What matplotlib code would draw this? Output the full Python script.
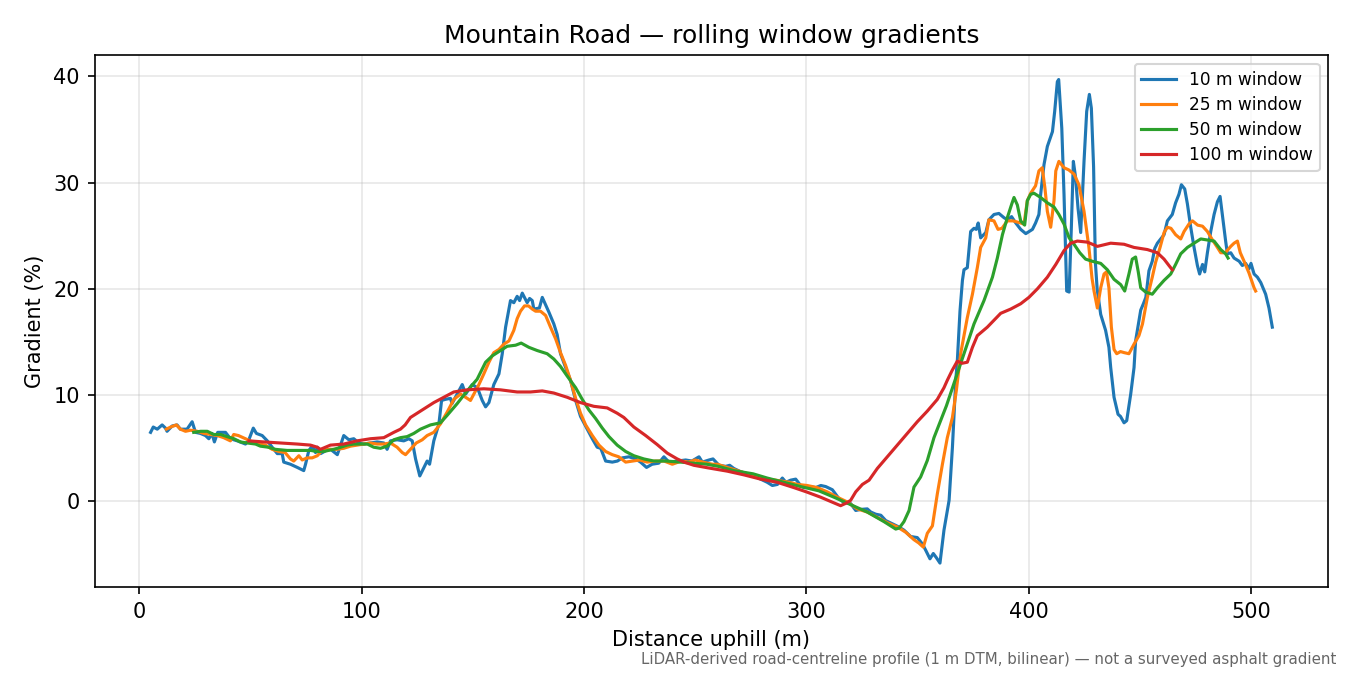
import matplotlib
matplotlib.use("Agg")
import matplotlib.pyplot as plt

# values (distance in m, gradient in %)
x10 = [5.0, 6.2, 8.0, 10.2, 11.7, 12.4, 14.7, 16.9, 18.4, 21.4, 23.7, 25.2, 27.4, 29.7, 31.2, 32.6, 33.7, 35.2, 38.7, 40.9,
       44.0, 47.7, 49.2, 51.2, 52.6, 55.2, 57.5, 59.7, 62.0, 64.2, 64.9, 67.9, 71.0, 73.9, 74.7, 76.2, 77.7, 79.2, 80.0, 81.5,
       84.0, 86.0, 89.0, 91.9, 94.2, 96.4, 98.7, 100.9, 103.9, 106.9, 109.9, 111.4, 112.9, 115.9, 118.9, 121.2, 122.7, 124.2, 126.1, 127.5,
       129.4, 130.5, 132.4, 134.7, 135.9, 137.5, 139.9, 140.6, 142.9, 145.2, 146.7, 149.7, 152.0, 154.2, 155.7, 157.2, 159.4, 161.7, 163.2, 164.7,
       166.9, 168.4, 169.9, 171.0, 172.2, 174.4, 175.5, 176.7, 177.4, 179.9, 181.2, 182.7, 184.2, 186.4, 187.9, 189.4, 191.7, 193.9, 196.2, 198.4,
       201.4, 203.7, 205.9, 207.5, 209.7, 212.7, 215.0, 217.2, 220.2, 223.2, 225.4, 228.1, 230.6, 233.6, 235.9, 238.2, 242.0, 245.7, 248.5, 251.7,
       253.2, 256.2, 258.0, 260.7, 263.7, 265.5, 267.4, 270.4, 273.4, 276.4, 279.4, 282.4, 284.7, 287.0, 289.2, 290.8, 292.9, 295.2, 297.4, 298.9,
       301.5, 304.2, 306.5, 308.7, 311.7, 314.7, 316.9, 319.9, 322.2, 324.5, 327.4, 329.0, 331.2, 333.5, 335.7, 338.7, 341.6, 343.9, 346.9, 349.9,
       352.2, 353.7, 355.6, 357.1, 358.5, 360.1, 361.9, 364.2, 365.7, 367.2, 367.9, 369.1, 370.2, 370.9, 372.4, 373.9, 375.4, 376.4, 377.3, 378.4,
       380.7, 382.1, 384.4, 386.6, 388.9, 390.5, 392.3, 394.2, 396.4, 398.7, 401.7, 403.1, 404.6, 405.4, 406.9, 408.4, 410.7, 411.7, 412.9, 413.5,
       414.9, 415.9, 417.1, 418.2, 419.2, 420.1, 421.1, 422.2, 423.4, 424.9, 426.1, 427.3, 428.2, 429.2, 430.0, 430.8, 432.4, 434.6, 436.1, 436.9,
       438.4, 440.2, 441.3, 442.9, 444.1, 445.9, 447.4, 448.1, 449.6, 450.4, 451.6, 452.7, 454.1, 455.6, 456.7, 457.9, 459.4, 460.9, 462.4, 464.6,
       466.1, 467.6, 468.7, 470.2, 471.4, 472.9, 474.4, 475.9, 476.9, 478.2, 479.2, 480.4, 481.9, 483.4, 484.9, 486.1, 487.1, 488.6, 489.4, 490.9,
       492.4, 494.7, 496.1, 497.6, 499.1, 500.0, 501.4, 502.9, 504.4, 506.6, 508.1, 509.6]
g10 = [6.5, 7.0, 6.8, 7.2, 6.9, 6.6, 7.1, 7.2, 6.8, 6.8, 7.5, 6.5, 6.4, 6.2, 5.9, 6.4, 5.6, 6.5, 6.5, 5.9,
       5.7, 5.4, 5.8, 6.9, 6.4, 6.2, 5.7, 5.1, 4.5, 4.5, 3.7, 3.5, 3.2, 2.9, 3.5, 4.8, 5.2, 4.6, 5.1, 4.5,
       4.8, 4.9, 4.4, 6.2, 5.8, 5.9, 5.5, 5.4, 5.5, 5.6, 5.5, 4.9, 5.7, 5.8, 5.7, 5.9, 5.7, 4.0, 2.4, 3.0,
       3.8, 3.5, 5.7, 7.3, 9.5, 9.6, 9.7, 9.2, 10.1, 11.0, 10.1, 11.0, 10.7, 9.5, 8.9, 9.3, 11.0, 12.0, 13.9, 16.4,
       18.9, 18.7, 19.3, 18.9, 19.6, 18.7, 19.1, 18.9, 18.1, 18.2, 19.2, 18.5, 17.8, 16.7, 15.7, 13.9, 12.6, 11.4, 9.5, 8.0,
       6.8, 5.9, 5.1, 5.0, 3.8, 3.7, 3.8, 4.1, 4.2, 4.0, 3.7, 3.2, 3.5, 3.6, 4.2, 3.7, 3.8, 3.9, 3.8, 4.2,
       3.7, 3.9, 4.0, 3.4, 3.3, 3.4, 3.1, 2.8, 2.6, 2.4, 2.1, 1.8, 1.5, 1.6, 2.2, 1.8, 2.0, 2.1, 1.5, 1.3,
       1.4, 1.3, 1.5, 1.4, 1.1, 0.25, -0.1, -0.2, -0.85, -0.75, -0.7, -1.0, -1.2, -1.3, -1.8, -2.1, -2.4, -2.7, -3.3, -3.4,
       -4.0, -4.6, -5.4, -4.9, -5.3, -5.8, -2.7, 0.1, 5.1, 11.4, 13.2, 17.9, 20.8, 21.8, 22.0, 25.4, 25.7, 25.6, 26.2, 24.8,
       25.3, 26.5, 27.0, 27.1, 26.7, 26.5, 26.8, 26.2, 25.6, 25.2, 25.6, 26.2, 27.0, 28.9, 31.7, 33.4, 34.8, 36.7, 39.5, 39.7,
       35.1, 28.9, 19.8, 19.7, 25.8, 32.0, 30.5, 27.6, 25.3, 32.0, 36.7, 38.3, 37.0, 31.5, 22.5, 20.0, 17.6, 16.1, 14.5, 12.6,
       9.8, 8.2, 8.0, 7.4, 7.6, 10.1, 12.6, 15.1, 17.0, 18.0, 18.6, 19.2, 21.7, 22.6, 23.8, 24.3, 24.7, 25.1, 26.4, 27.0,
       28.1, 28.9, 29.8, 29.4, 28.0, 25.8, 23.9, 22.2, 21.4, 22.3, 21.6, 23.4, 25.4, 27.0, 28.2, 28.7, 27.0, 24.5, 23.3, 23.4,
       22.9, 22.6, 22.2, 22.4, 21.9, 22.4, 21.4, 21.1, 20.6, 19.5, 18.2, 16.4]

x25 = [12.1, 14.0, 16.6, 18.4, 20.7, 23.0, 26.0, 29.0, 32.0, 35.0, 37.9, 40.9, 42.4, 44.5, 47.7, 50.7, 53.7, 56.7, 59.7, 62.7,
       65.5, 67.9, 69.4, 71.7, 73.2, 75.5, 77.7, 80.0, 82.2, 85.2, 88.5, 91.9, 94.9, 97.9, 100.9, 103.9, 106.9, 109.9, 112.9, 115.9,
       118.2, 119.7, 121.9, 124.5, 127.2, 129.4, 132.4, 135.4, 138.4, 141.4, 144.4, 146.7, 148.9, 150.4, 152.7, 154.9, 157.2, 159.4, 161.7, 163.9,
       166.2, 168.4, 169.9, 171.4, 173.2, 175.0, 176.7, 178.2, 180.4, 182.7, 184.9, 187.2, 189.4, 191.7, 193.9, 196.2, 198.4, 200.7, 203.7, 206.7,
       209.7, 212.7, 215.6, 218.7, 222.0, 225.0, 228.4, 232.0, 236.0, 239.7, 243.7, 247.0, 250.0, 253.5, 257.7, 260.0, 264.4, 269.0, 272.0, 276.4,
       282.4, 286.3, 292.3, 296.0, 300.4, 304.9, 309.4, 313.9, 318.4, 322.9, 327.4, 331.9, 336.4, 340.9, 344.7, 348.4, 350.5, 352.6, 354.4, 356.7,
       358.9, 361.2, 363.4, 365.7, 367.5, 369.4, 372.4, 374.7, 376.9, 378.4, 380.7, 382.1, 384.4, 386.2, 388.0, 390.4, 393.0, 396.4, 397.9, 399.4,
       400.9, 403.1, 404.6, 406.1, 407.3, 408.4, 409.9, 411.4, 412.2, 413.6, 415.9, 418.0, 420.4, 422.6, 424.9, 427.1, 428.5, 429.4, 430.9, 432.4,
       433.9, 435.0, 436.1, 437.2, 438.4, 439.6, 441.3, 443.0, 445.1, 447.4, 449.6, 451.2, 453.4, 455.6, 457.1, 459.1, 460.9, 462.4, 464.0, 466.1,
       468.4, 469.9, 472.1, 473.7, 476.0, 478.2, 480.4, 482.7, 484.9, 486.4, 488.5, 490.9, 492.4, 493.9, 495.2, 496.9, 499.1, 501.4, 502.1]
g25 = [6.8, 7.0, 7.2, 6.8, 6.6, 6.7, 6.6, 6.4, 6.3, 6.2, 6.0, 5.7, 6.3, 6.2, 5.9, 5.6, 5.4, 5.3, 4.9, 4.7,
       4.6, 4.0, 3.8, 4.3, 3.9, 4.1, 4.1, 4.3, 4.8, 4.9, 4.9, 5.0, 5.2, 5.3, 5.4, 5.5, 5.4, 5.4, 5.5, 5.1,
       4.6, 4.4, 4.9, 5.5, 5.8, 6.2, 6.5, 7.3, 8.4, 9.6, 10.1, 9.8, 9.5, 10.1, 11.0, 12.0, 13.1, 14.0, 14.3, 14.8,
       15.1, 16.1, 17.2, 17.9, 18.4, 18.4, 18.1, 17.9, 17.9, 17.5, 16.4, 15.3, 14.0, 12.8, 11.4, 9.7, 8.3, 7.2, 6.2, 5.3,
       4.7, 4.4, 4.2, 3.7, 3.8, 3.9, 3.7, 3.8, 3.8, 3.5, 3.8, 3.7, 3.9, 3.7, 3.5, 3.5, 3.2, 2.9, 2.7, 2.4,
       2.1, 2.0, 1.8, 1.6, 1.5, 1.3, 0.9, 0.4, -0.05, -0.7, -1.0, -1.5, -2.0, -2.4, -2.9, -3.6, -3.9, -4.3, -3.0, -2.3,
       0.7, 3.5, 6.0, 7.9, 10.5, 13.9, 17.3, 19.5, 22.0, 23.9, 24.8, 26.5, 26.4, 25.6, 25.7, 26.4, 26.4, 26.2, 26.1, 28.3,
       29.0, 29.7, 31.1, 31.4, 29.5, 27.3, 25.8, 28.3, 31.1, 32.0, 31.4, 31.2, 30.8, 29.8, 27.3, 23.9, 21.0, 19.8, 18.2, 20.1,
       21.4, 21.6, 20.1, 16.4, 14.3, 13.9, 14.1, 14.0, 13.9, 14.8, 15.6, 16.7, 19.2, 21.1, 22.5, 23.9, 25.3, 25.8, 25.7, 25.1,
       24.7, 25.4, 26.1, 26.4, 26.0, 25.9, 25.4, 24.6, 23.9, 23.4, 23.4, 24.0, 24.3, 24.5, 23.4, 22.6, 21.5, 20.1, 19.8]

x50 = [24.4, 27.5, 30.5, 33.4, 36.5, 39.4, 42.5, 45.4, 48.5, 52.2, 54.4, 58.0, 61.2, 64.0, 66.4, 70.0, 73.9, 77.0, 79.9, 82.9,
       85.0, 87.4, 90.5, 93.4, 96.4, 99.4, 102.5, 105.4, 108.4, 111.4, 114.4, 117.4, 120.4, 123.4, 126.4, 130.9, 135.4, 138.4, 142.9, 147.4,
       151.9, 155.7, 158.7, 162.4, 165.4, 169.2, 171.7, 175.2, 178.9, 183.4, 186.4, 189.4, 192.4, 196.2, 199.2, 202.2, 205.2, 208.2, 211.2, 214.9,
       218.7, 222.4, 226.9, 231.4, 237.0, 243.4, 249.0, 255.2, 260.4, 267.4, 276.0, 282.4, 289.9, 297.4, 305.6, 312.4, 319.9, 327.4, 334.9, 340.2,
       341.8, 343.9, 346.2, 348.4, 351.4, 354.4, 357.4, 360.4, 363.0, 366.4, 370.9, 375.4, 379.9, 383.7, 385.9, 388.2, 390.4, 392.4, 393.4, 394.9,
       396.4, 398.2, 399.4, 400.9, 402.4, 405.4, 408.4, 411.4, 413.6, 415.9, 418.2, 420.4, 423.0, 425.6, 428.6, 432.4, 435.4, 438.4, 441.4, 443.2,
       445.1, 446.6, 448.1, 449.3, 450.4, 452.6, 455.6, 457.9, 460.9, 463.9, 466.1, 468.4, 471.4, 474.4, 477.4, 480.4, 483.4, 486.4, 488.6, 489.7]
g50 = [6.5, 6.6, 6.6, 6.3, 6.3, 6.1, 5.9, 5.6, 5.5, 5.4, 5.2, 5.1, 4.9, 4.85, 4.8, 4.8, 4.8, 4.8, 4.7, 4.7,
       4.8, 4.9, 5.1, 5.3, 5.4, 5.4, 5.4, 5.1, 5.0, 5.2, 5.8, 6.0, 6.1, 6.4, 6.8, 7.2, 7.4, 8.1, 9.2, 10.4,
       11.5, 13.1, 13.7, 14.2, 14.6, 14.7, 14.9, 14.5, 14.2, 13.9, 13.4, 12.7, 11.8, 10.7, 9.6, 8.6, 7.8, 6.9, 6.1, 5.3,
       4.7, 4.3, 4.0, 3.8, 3.8, 3.7, 3.6, 3.5, 3.3, 2.9, 2.6, 2.2, 1.8, 1.4, 1.0, 0.4, -0.3, -1.0, -1.9, -2.6,
       -2.5, -1.9, -0.85, 1.35, 2.3, 3.85, 6.0, 7.6, 9.0, 11.1, 13.9, 16.7, 18.9, 21.1, 22.9, 25.1, 26.7, 28.0, 28.6, 27.9,
       26.4, 26.0, 28.3, 28.9, 29.0, 28.6, 28.1, 27.7, 27.0, 26.1, 24.8, 24.2, 23.4, 22.8, 22.6, 22.4, 21.8, 20.9, 20.4, 19.8,
       21.4, 22.8, 23.0, 21.6, 20.1, 19.7, 19.5, 20.1, 20.8, 21.4, 22.3, 23.3, 23.9, 24.3, 24.7, 24.6, 24.5, 23.7, 23.3, 22.9]

x100 = [49.2, 55.9, 63.4, 71.0, 76.9, 80.0, 81.4, 85.9, 91.9, 97.9, 103.9, 109.9, 114.4, 117.4, 119.5, 121.9, 126.4, 132.4, 136.9, 141.4,
        147.4, 154.9, 162.4, 169.9, 175.9, 181.2, 186.4, 192.4, 198.4, 204.4, 210.4, 214.9, 217.9, 222.4, 227.7, 232.9, 237.4, 241.9, 245.0, 249.4,
        256.0, 264.4, 271.9, 279.4, 286.9, 294.4, 300.0, 306.4, 312.0, 315.4, 317.5, 319.9, 322.2, 325.2, 328.2, 331.9, 336.4, 340.9, 345.4, 349.9,
        354.4, 358.9, 361.9, 363.4, 365.5, 367.9, 370.0, 372.4, 374.7, 376.9, 381.4, 387.4, 391.9, 396.4, 400.1, 403.9, 408.4, 412.2, 415.9, 418.9,
        421.9, 426.4, 430.9, 436.9, 442.9, 447.4, 453.4, 457.9, 460.9, 463.1, 464.6]
g100 = [5.7, 5.6, 5.5, 5.4, 5.3, 5.1, 4.9, 5.3, 5.4, 5.7, 5.9, 6.0, 6.5, 6.8, 7.2, 7.9, 8.5, 9.3, 9.8, 10.3,
        10.5, 10.6, 10.5, 10.3, 10.3, 10.4, 10.2, 9.8, 9.3, 8.95, 8.8, 8.3, 7.9, 7.0, 6.2, 5.35, 4.55, 4.0, 3.7, 3.4,
        3.15, 2.85, 2.5, 2.1, 1.8, 1.3, 0.9, 0.4, -0.1, -0.4, -0.2, 0.1, 0.9, 1.6, 2.0, 3.1, 4.2, 5.3, 6.4, 7.5,
        8.5, 9.6, 10.7, 11.4, 12.3, 13.2, 13.0, 13.1, 14.5, 15.6, 16.4, 17.7, 18.1, 18.6, 19.2, 20.0, 21.1, 22.3, 23.6, 24.3,
        24.5, 24.4, 24.0, 24.3, 24.2, 23.9, 23.7, 23.4, 22.8, 22.2, 21.8]

series = [(x10, g10, "10 m window", "#1f77b4"),
          (x25, g25, "25 m window", "#ff7f0e"),
          (x50, g50, "50 m window", "#2ca02c"),
          (x100, g100, "100 m window", "#d62728")]

fig = plt.figure(figsize=(9, 4.5), dpi=150)
ax = fig.add_subplot(1, 1, 1)
fig.subplots_adjust(left=0.07, right=0.984, top=0.918, bottom=0.13)

for xs, ys, lab, col in series:
    ax.plot(xs, ys, color=col, linewidth=1.5, label=lab)

ax.set_title("Mountain Road — rolling window gradients", fontsize=12)
ax.set_xlabel("Distance uphill (m)")
ax.set_ylabel("Gradient (%)")
ax.grid(True, alpha=0.3)
ax.legend(loc="upper right", fontsize=8.2, labelspacing=0.42)

fig.text(0.99, 0.012, "LiDAR-derived road-centreline profile (1 m DTM, bilinear) — not a surveyed asphalt gradient",
         ha="right", va="bottom", fontsize=7.2, color="#666666")

fig.savefig("out.png", dpi=150)
